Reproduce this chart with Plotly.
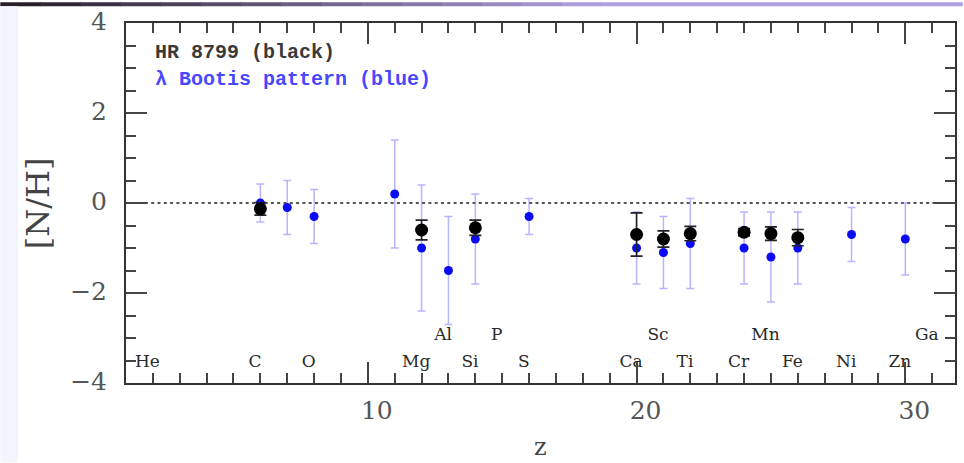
import plotly.graph_objects as go

# ---- data ----
# lambda Bootis pattern (blue)
blue_z = [6, 7, 8, 11, 12, 13, 14, 16, 20, 21, 22, 24, 25, 26, 28, 30]
blue_val = [0.0, -0.1, -0.3, 0.2, -1.0, -1.5, -0.8, -0.3, -1.0, -1.1, -0.9, -1.0, -1.2, -1.0, -0.7, -0.8]
blue_err = [0.42, 0.6, 0.6, 1.2, 1.4, 1.2, 1.0, 0.4, 0.8, 0.8, 1.0, 0.8, 1.0, 0.8, 0.6, 0.8]

# HR 8799 (black)
hr_z = [6, 12, 14, 20, 21, 22, 24, 25, 26]
hr_val = [-0.13, -0.6, -0.55, -0.7, -0.8, -0.68, -0.65, -0.68, -0.77]
hr_err = [0.14, 0.22, 0.17, 0.48, 0.18, 0.16, 0.08, 0.15, 0.18]

# element labels
elem_names = ["He", "C", "O", "Mg", "Al", "Si", "P", "S", "Ca", "Sc", "Ti",
              "Cr", "Mn", "Fe", "Ni", "Zn", "Ga"]
elem_z = [2, 6, 8, 12, 13, 14, 15, 16, 20, 21, 22, 24, 25, 26, 28, 30, 31]

x_ticks = [10, 20, 30]
y_ticks = [-4, -2, 0, 2, 4]

# ---- figure ----
fig = go.Figure()

BLUE = "#0a0af5"
fig.add_trace(go.Scatter(
    x=blue_z, y=blue_val, mode="markers",
    marker=dict(color=BLUE, size=9),
    error_y=dict(type="data", array=blue_err, color="rgba(110,110,255,0.5)",
                 thickness=1.5, width=4),
    showlegend=False))

fig.add_trace(go.Scatter(
    x=hr_z, y=hr_val, mode="markers",
    marker=dict(color="#000000", size=13),
    error_y=dict(type="data", array=hr_err, color="#222222",
                 thickness=1.6, width=6),
    showlegend=False))

# element label rows: odd Z in upper row, even Z in lower row
label_x = [z - 0.2 for z in elem_z]
label_y = [-2.95 if z % 2 else -3.55 for z in elem_z]
fig.add_trace(go.Scatter(
    x=label_x, y=label_y, mode="text", text=elem_names,
    textfont=dict(family="DejaVu Serif", size=17, color="#2a2a2a"),
    showlegend=False, hoverinfo="skip"))

# zero line
fig.add_shape(type="line", xref="paper", x0=0, x1=1, yref="y", y0=0, y1=0,
              line=dict(color="#555555", width=2, dash="3px,3.3px"), layer="below")

# decorative frame bits from the slide
n = 24
for i in range(n):
    t = i / (n - 1)
    r = int(40 + (175 - 40) * min(1, t * 1.6))
    g = int(30 + (160 - 30) * min(1, t * 1.6))
    b = int(40 + (225 - 40) * min(1, t * 1.6))
    fig.add_shape(type="rect", xref="paper", yref="paper",
                  x0=-126 / 831 + i * (964 / 831) / n,
                  x1=-126 / 831 + (i + 1) * (964 / 831) / n + 0.001,
                  y0=1 + 17 / 363, y1=1 + 21 / 363,
                  line=dict(width=0), fillcolor=f"rgb({r},{g},{b})", layer="below")
fig.add_shape(type="rect", xref="paper", yref="paper",
              x0=-126 / 831, x1=-108 / 831, y0=-80 / 363, y1=1 + 17 / 363,
              line=dict(width=0), fillcolor="#f4f5fc", layer="below")

# legend text
fig.add_annotation(x=2.0, y=3.34, xref="x", yref="y", text="<b>HR 8799 (black)</b>",
                   showarrow=False, xanchor="left", yanchor="middle",
                   font=dict(family="Liberation Mono", size=20, color="#3a3a3a"))
fig.add_annotation(x=2.0, y=2.75, xref="x", yref="y", text="<b>λ Bootis pattern (blue)</b>",
                   showarrow=False, xanchor="left", yanchor="middle",
                   font=dict(family="Liberation Mono", size=20, color="#4848ff"))

# axis titles
fig.add_annotation(x=0.5, y=-65 / 363, xref="paper", yref="paper", text="z",
                   showarrow=False, xanchor="center", yanchor="middle",
                   font=dict(family="DejaVu Serif", size=24, color="#444444"))
fig.add_annotation(x=-88 / 831, y=0.5, xref="paper", yref="paper", text="[N/H]",
                   showarrow=False, textangle=-90, xanchor="center", yanchor="middle",
                   font=dict(family="DejaVu Serif", size=32, color="#444444"))

axis_common = dict(showline=True, linecolor="#333333", linewidth=2, mirror="ticks",
                   ticks="inside", tickcolor="#444444", tickwidth=1.5, ticklen=21,
                   showgrid=False, zeroline=False,
                   tickfont=dict(family="DejaVu Serif", size=25, color="#555555"))

fig.update_xaxes(range=[1, 31.85], tickmode="array", tickvals=x_ticks,
                 ticktext=[str(v) for v in x_ticks], ticklabelshift=9,
                 ticklabelstandoff=4,
                 minor=dict(ticks="inside", dtick=1, tick0=0, ticklen=10,
                            tickcolor="#444444", tickwidth=1.5),
                 **axis_common)
fig.update_yaxes(range=[-4, 4], tickmode="array", tickvals=y_ticks,
                 ticktext=[str(v).replace("-", "\u2212") for v in y_ticks],
                 ticklabelstandoff=12, ticklabelshift=-2,
                 minor=dict(ticks="inside", dtick=0.5, tick0=0, ticklen=10,
                            tickcolor="#444444", tickwidth=1.5),
                 **axis_common)

fig.update_layout(width=964, height=463,
                  margin=dict(l=126, r=7, t=20, b=80),
                  paper_bgcolor="white", plot_bgcolor="white")

fig.write_html("out.html")
